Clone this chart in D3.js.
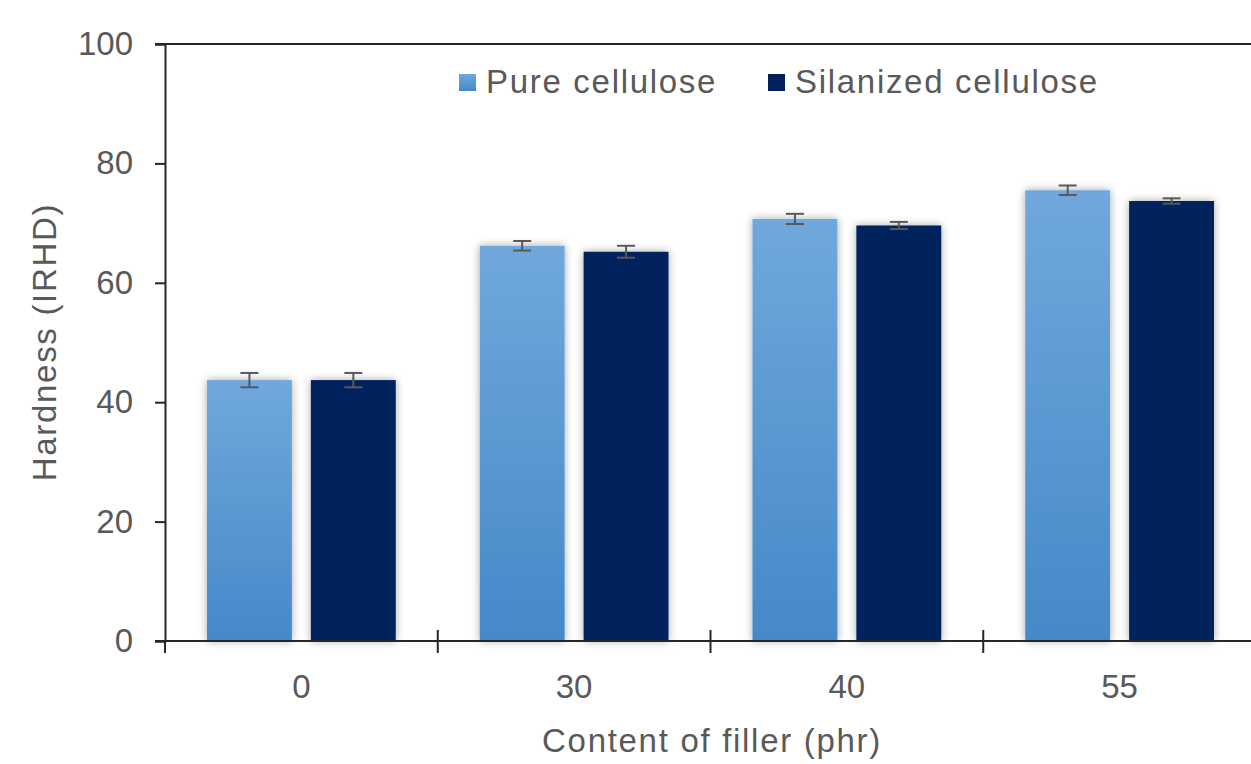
<!DOCTYPE html>
<html>
<head>
<meta charset="utf-8">
<script src="https://cdn.jsdelivr.net/npm/d3@7"></script>
<style>
  body { margin: 0; background: #fff; }
  text { font-family: "Liberation Sans", Arial, sans-serif; fill: #595959; }
  .wide { letter-spacing: 1.7px; }
</style>
</head>
<body>
<svg></svg>
<script>
  const width = 1251;
  const height = 764;

  // data
  const categories = ['0', '30', '40', '55'];
  const seriesNames = ['Pure cellulose', 'Silanized cellulose'];
  const pureValues = [43.7, 66.2, 70.7, 75.5];
  const pureErrors = [1.2, 0.8, 0.85, 0.8];
  const silanValues = [43.7, 65.2, 69.6, 73.7];
  const silanErrors = [1.2, 1.0, 0.6, 0.45];
  const yTicks = [0, 20, 40, 60, 80, 100];

  const rows = [];
  categories.forEach((c, i) => {
    rows.push({cat: c, s: 0, v: pureValues[i], e: pureErrors[i]});
    rows.push({cat: c, s: 1, v: silanValues[i], e: silanErrors[i]});
  });

  const svg = d3.select('svg').attr('width', width).attr('height', height);
  const defs = svg.append('defs');

  const grad = defs.append('linearGradient').attr('id', 'pureGrad')
      .attr('x1', 0).attr('y1', 0).attr('x2', 0).attr('y2', 1);
  grad.append('stop').attr('offset', '0%').attr('stop-color', '#70a8dc');
  grad.append('stop').attr('offset', '100%').attr('stop-color', '#4589c8');

  const shadow = defs.append('filter').attr('id', 'shadow')
      .attr('x', '-20%').attr('y', '-5%').attr('width', '140%').attr('height', '110%');
  shadow.append('feDropShadow').attr('dx', 0).attr('dy', 0)
      .attr('stdDeviation', 4).attr('flood-color', '#000').attr('flood-opacity', 0.35);

  const y = d3.scaleLinear().domain([0, 100]).range([641, 44]);
  const x = d3.scaleBand().domain(categories).range([165, 1256]).paddingInner(0).paddingOuter(0);
  const xs = d3.scaleBand().domain([0, 1]).range([42, x.bandwidth() - 42]).paddingInner(0.183);

  const colors = ['url(#pureGrad)', '#02205d'];

  // bars
  svg.append('g').selectAll('rect')
    .data(rows).enter().append('rect')
      .attr('x', d => x(d.cat) + xs(d.s))
      .attr('y', d => y(d.v))
      .attr('width', xs.bandwidth())
      .attr('height', d => y(0) - y(d.v))
      .attr('fill', d => colors[d.s])
      .attr('filter', 'url(#shadow)');

  // error bars
  const err = svg.append('g').attr('stroke', '#595959').attr('stroke-width', 2);
  rows.forEach(d => {
    const cx = x(d.cat) + xs(d.s) + xs.bandwidth() / 2;
    err.append('line').attr('x1', cx).attr('x2', cx).attr('y1', y(d.v + d.e)).attr('y2', y(d.v - d.e));
    err.append('line').attr('x1', cx - 9).attr('x2', cx + 9).attr('y1', y(d.v + d.e)).attr('y2', y(d.v + d.e));
    err.append('line').attr('x1', cx - 9).attr('x2', cx + 9).attr('y1', y(d.v - d.e)).attr('y2', y(d.v - d.e));
  });

  // y axis
  const yAxis = svg.append('g').attr('transform', 'translate(165,0)')
    .call(d3.axisLeft(y).tickValues(yTicks).tickSize(10).tickPadding(22));
  yAxis.select('.domain').attr('stroke', '#262626').attr('stroke-width', 2);
  yAxis.selectAll('.tick line').attr('stroke', '#262626').attr('stroke-width', 2);
  yAxis.selectAll('.tick text').style('font-size', '33px').attr('fill', '#595959');

  // top border line at 100
  svg.append('line').attr('x1', 155).attr('x2', width).attr('y1', y(100)).attr('y2', y(100))
    .attr('stroke', '#262626').attr('stroke-width', 2);

  // x axis
  svg.append('line').attr('x1', 155).attr('x2', width).attr('y1', y(0)).attr('y2', y(0))
    .attr('stroke', '#262626').attr('stroke-width', 2);
  const xTickPos = categories.map(c => x(c));
  svg.append('g').selectAll('line').data(xTickPos).enter().append('line')
    .attr('x1', d => d).attr('x2', d => d)
    .attr('y1', d => d === 165 ? y(0) : y(0) - 11).attr('y2', y(0) + 12)
    .attr('stroke', '#262626').attr('stroke-width', 2);
  svg.append('g').selectAll('text').data(categories).enter().append('text')
    .attr('x', d => x(d) + x.bandwidth() / 2)
    .attr('y', 698)
    .attr('text-anchor', 'middle')
    .style('font-size', '33px')
    .text(d => d);

  // axis titles
  svg.append('text').attr('class', 'wide').attr('x', 712).attr('y', 752).attr('text-anchor', 'middle')
    .style('font-size', '33px').text('Content of filler (phr)');
  svg.append('text').attr('class', 'wide').attr('transform', 'translate(56,342) rotate(-90)')
    .attr('text-anchor', 'middle').style('font-size', '33px').text('Hardness (IRHD)');

  // legend
  const legendX = [459, 768];
  const legend = svg.append('g');
  seriesNames.forEach((name, i) => {
    legend.append('rect').attr('x', legendX[i]).attr('y', 74).attr('width', 17).attr('height', 17)
      .attr('fill', colors[i]);
    legend.append('text').attr('class', 'wide').attr('x', legendX[i] + 27).attr('y', 93)
      .style('font-size', '33px').text(name);
  });
</script>
</body>
</html>
